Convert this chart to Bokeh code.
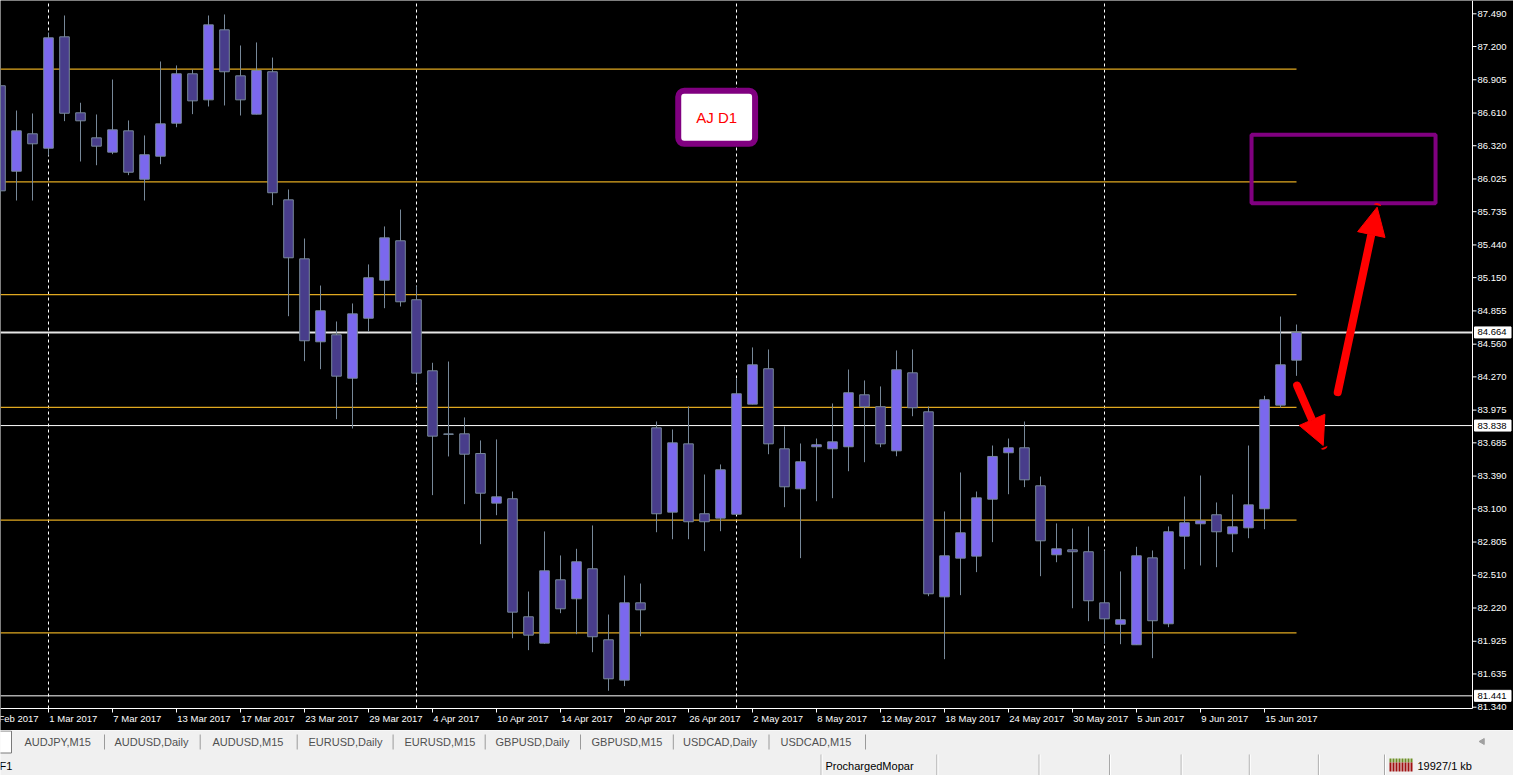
import numpy as np
import pandas as pd
from bokeh.plotting import figure
from bokeh.layouts import column
from bokeh.models import (Range1d, Label, BoxAnnotation, Arrow, NormalHead, ColumnDataSource)
from bokeh.core.properties import value
from bokeh.embed import file_html
from bokeh.resources import INLINE

# ---------------- data (AUDJPY daily) ----------------
first_bar_date = "2017-02-24"
opens = [86.852, 86.094, 86.426, 86.298, 87.286, 86.612, 86.390, 86.263, 86.452, 86.023,
         86.227, 86.520, 86.958, 86.727, 87.348, 86.940, 86.600, 86.976, 85.840, 85.317,
         84.581, 84.643, 84.258, 84.790, 85.127, 85.477, 84.954, 84.324, 83.764, 83.765,
         83.590, 83.150, 83.189, 82.142, 81.908, 82.470, 82.302, 82.568, 81.938, 81.580,
         82.266, 83.818, 83.070, 83.676, 83.056, 83.017, 83.052, 84.028, 84.342, 83.632,
         83.277, 83.650, 83.632, 83.650, 84.111, 84.005, 83.614, 84.306, 83.960, 82.319,
         82.662, 82.680, 83.185, 83.597, 83.641, 83.304, 82.692, 82.736, 82.719, 82.266,
         82.076, 81.894, 82.665, 82.080, 82.857, 82.967, 83.047, 82.878, 82.931, 83.100,
         84.019, 84.418]
highs = [86.898, 86.632, 86.606, 87.324, 87.475, 86.701, 86.597, 86.907, 86.544, 86.411,
         87.067, 87.032, 86.996, 87.475, 87.484, 87.209, 87.236, 87.102, 85.932, 85.497,
         85.080, 84.761, 84.921, 85.267, 85.604, 85.754, 85.074, 84.395, 84.406, 83.910,
         83.706, 83.715, 83.253, 82.366, 82.899, 82.686, 82.745, 82.952, 82.162, 82.508,
         82.437, 83.874, 83.803, 84.007, 83.404, 83.493, 84.256, 84.531, 84.513, 83.830,
         83.679, 83.723, 84.034, 84.335, 84.238, 84.185, 84.504, 84.513, 84.007, 83.076,
         83.422, 83.253, 83.661, 83.723, 83.874, 83.386, 82.970, 82.925, 82.943, 82.730,
         82.544, 82.763, 82.730, 82.943, 83.209, 83.395, 83.156, 83.227, 83.661, 84.102,
         84.805, 84.734]
lows = [85.879, 85.834, 85.834, 86.233, 86.538, 86.180, 86.147, 86.245, 86.059, 85.834,
        86.156, 86.484, 86.600, 86.668, 86.677, 86.588, 86.598, 85.793, 84.808, 84.409,
        84.338, 83.895, 83.812, 84.672, 84.879, 84.894, 84.218, 83.221, 83.564, 83.141,
        82.786, 83.043, 81.952, 81.846, 81.902, 82.174, 81.988, 81.828, 81.486, 81.527,
        81.970, 82.892, 82.830, 82.830, 82.724, 82.901, 83.050, 84.026, 83.584, 83.114,
        82.662, 83.167, 83.194, 83.433, 83.513, 83.646, 83.566, 83.921, 82.325, 81.766,
        82.334, 82.538, 82.804, 83.229, 83.292, 82.502, 82.626, 82.218, 82.103, 81.902,
        81.899, 81.892, 81.775, 82.050, 82.564, 82.597, 82.582, 82.715, 82.839, 82.919,
        83.996, 84.279]
closes = [85.920, 86.452, 86.337, 87.277, 86.608, 86.541, 86.316, 86.461, 86.085, 86.240,
          86.514, 86.958, 86.718, 87.392, 86.976, 86.727, 86.987, 85.903, 85.326, 84.590,
          84.856, 84.276, 84.829, 85.149, 85.503, 84.936, 84.303, 83.744, 83.760, 83.584,
          83.238, 83.206, 82.183, 81.979, 82.550, 82.213, 82.630, 81.965, 81.592, 82.266,
          82.204, 83.056, 83.685, 82.985, 82.985, 83.446, 84.120, 84.377, 83.676, 83.295,
          83.517, 83.668, 83.694, 84.129, 84.005, 83.676, 84.333, 83.996, 82.346, 82.683,
          82.887, 83.197, 83.564, 83.641, 83.357, 82.816, 82.745, 82.719, 82.284, 82.124,
          82.116, 82.683, 82.107, 82.896, 82.976, 82.993, 82.896, 82.940, 83.135, 84.067,
          84.377, 84.664]

date_tick_labels = ["23 Feb 2017", "1 Mar 2017", "7 Mar 2017", "13 Mar 2017", "17 Mar 2017",
                    "23 Mar 2017", "29 Mar 2017", "4 Apr 2017", "10 Apr 2017", "14 Apr 2017",
                    "20 Apr 2017", "26 Apr 2017", "2 May 2017", "8 May 2017", "12 May 2017",
                    "18 May 2017", "24 May 2017", "30 May 2017", "5 Jun 2017", "9 Jun 2017",
                    "15 Jun 2017"]
price_ticks = [87.490, 87.200, 86.905, 86.610, 86.320, 86.025, 85.735, 85.440, 85.150, 84.855,
               84.560, 84.270, 83.975, 83.685, 83.390, 83.100, 82.805, 82.510, 82.220, 81.925,
               81.635, 81.340]
level_lines = [87.0, 86.0, 85.0, 84.0, 83.0, 82.0]
marked_prices = [84.664, 83.838, 81.441]
chart_label = "AJ D1"

# drawn objects (bar index, price)
target_box = dict(left=75.19, right=86.69, top=86.417, bottom=85.810)
arrow_up = (80.58, 84.134, 83.04, 85.775)
arrow_down = (78.04, 84.193, 79.67, 83.661)
label_pos = (41.76, 86.572)

tab_names = ["AUDJPY,M15", "AUDUSD,Daily", "AUDUSD,M15", "EURUSD,Daily", "EURUSD,M15",
             "GBPUSD,Daily", "GBPUSD,M15", "USDCAD,Daily", "USDCAD,M15"]
status_texts = ["F1", "ProchargedMopar", "19927/1 kb"]

# ---------------- index mapping (trading days, 1 Mar 2017 = 0) ----------------
all_days = pd.bdate_range("2017-02-01", "2017-07-31")
pos = {d: i for i, d in enumerate(all_days)}
origin = pos[pd.Timestamp("2017-03-01")]
bar_dates = pd.bdate_range(first_bar_date, periods=len(opens))
xs = np.array([pos[d] - origin for d in bar_dates], dtype=float)

o = np.array(opens); h = np.array(highs); l = np.array(lows); c = np.array(closes)
bull = c >= o
src = ColumnDataSource(dict(
    x=xs, high=h, low=l,
    top=np.maximum(o, c), bottom=np.minimum(o, c),
    color=np.where(bull, "#7B68EE", "#483D8B"),
))

tick_dates = [pd.to_datetime(s, format="%d %b %Y") for s in date_tick_labels]
tick_x = np.array([pos[d] - origin for d in tick_dates], dtype=float)

FONT = "Liberation Sans"
W = 1513
PX = 16.0          # pixels per bar
PY = 112.75        # pixels per price unit
X0 = -3.0          # bar index at left edge
Y_TOP = 87.608     # price at top edge
AX_X = X0 + 1472 / PX          # price-axis position (bar units)
AX_Y = Y_TOP - 708 / PY        # date-axis position (price units)

p = figure(width=W, height=730, x_range=Range1d(X0, X0 + W / PX),
           y_range=Range1d(Y_TOP - 730 / PY, Y_TOP),
           toolbar_location=None, output_backend="svg",
           x_axis_location=None, y_axis_location=None, min_border=0)
p.background_fill_color = "black"
p.border_fill_color = "black"
p.outline_line_color = None
p.grid.visible = False

# month separators (first bar of each month)
msep = [xs[i] for i in range(1, len(xs)) if bar_dates[i].month != bar_dates[i - 1].month]
p.segment(x0=msep, x1=msep, y0=[AX_Y] * len(msep), y1=[Y_TOP] * len(msep),
          line_color="white", line_dash="3 3", line_width=1)

# level lines ending at the last bar
p.segment(x0=[X0] * len(level_lines), x1=[xs[-1]] * len(level_lines),
          y0=level_lines, y1=level_lines, line_color="#E0A820", line_width=1.3)

# marked price lines (full width up to the price axis)
p.segment(x0=[X0] * 3, x1=[AX_X] * 3, y0=marked_prices, y1=marked_prices,
          line_color=["#E6E6E6", "white", "white"], line_width=[2, 1, 1])

# candles
p.segment(x0="x", x1="x", y0="low", y1="high", source=src, line_color="#778899", line_width=1)
p.vbar(x="x", width=0.6, top="top", bottom="bottom", source=src,
       fill_color="color", line_color="#778899", line_width=1)

# ---- price axis (right) ----
p.segment(x0=[AX_X], x1=[AX_X], y0=[AX_Y], y1=[Y_TOP], line_color="white", line_width=1)
p.segment(x0=[AX_X] * len(price_ticks), x1=[AX_X + 4 / PX] * len(price_ticks),
          y0=price_ticks, y1=price_ticks, line_color="white", line_width=1)
p.text(x=[AX_X + 5 / PX] * len(price_ticks), y=price_ticks,
       text=[f"{t:.3f}" for t in price_ticks], text_font=value(FONT),
       text_font_size="9.5px", text_color="white", text_baseline="middle", text_align="left")
# highlighted prices on the axis
p.quad(left=[AX_X + 2 / PX] * 3, right=[AX_X + 38.5 / PX] * 3,
       top=[mp + 5.5 / PY for mp in marked_prices],
       bottom=[mp - 5.5 / PY for mp in marked_prices],
       fill_color="white", line_color="white")
p.text(x=[AX_X + 5 / PX] * 3, y=marked_prices, text=[f"{mp:.3f}" for mp in marked_prices],
       text_font=value(FONT), text_font_size="9.5px", text_color="black",
       text_baseline="middle", text_align="left")

# ---- date axis (bottom) ----
p.segment(x0=[X0], x1=[AX_X], y0=[AX_Y], y1=[AX_Y], line_color="white", line_width=1)
p.segment(x0=tick_x, x1=tick_x, y0=[AX_Y] * len(tick_x), y1=[AX_Y - 4 / PY] * len(tick_x),
          line_color="white", line_width=1)
p.text(x=tick_x + 0.05, y=[AX_Y - 10 / PY] * len(tick_x), text=date_tick_labels,
       text_font=value(FONT), text_font_size="9.5px", text_color="white",
       text_baseline="middle", text_align="left")

# target box
p.add_layout(BoxAnnotation(left=target_box["left"], right=target_box["right"],
                           top=target_box["top"], bottom=target_box["bottom"],
                           fill_alpha=0, fill_color=None, line_color="#800080",
                           line_alpha=1.0, line_width=4))

# arrows
for (x0, y0, x1, y1) in [arrow_up, arrow_down]:
    p.add_layout(Arrow(x_start=x0, y_start=y0, x_end=x1, y_end=y1, line_color="#FF0000",
                       line_width=8, line_cap="round",
                       end=NormalHead(size=28, fill_color="#FF0000", line_color="#FF0000",
                                      line_width=1)))

# chart label
p.add_layout(Label(x=label_pos[0], y=label_pos[1], text=chart_label, text_font=FONT,
                   text_font_size="15px", text_color="#FF0000", text_align="center",
                   text_baseline="middle", background_fill_color="white",
                   border_line_color="#800080", border_line_width=6, border_radius=6,
                   padding=18))

# ---------------- tab bar + status bar ----------------
p2 = figure(width=W, height=45, x_range=Range1d(0, W), y_range=Range1d(775, 730),
            toolbar_location=None, output_backend="svg", x_axis_location=None,
            y_axis_location=None, min_border=0)
p2.background_fill_color = "#F0F0F0"
p2.border_fill_color = "#F0F0F0"
p2.outline_line_color = None
p2.grid.visible = False

p2.quad(left=[-2], right=[11], top=[730.5], bottom=[752.5], fill_color="white",
        line_color="#7A7A7A", line_width=1)
tab_x = [24, 114, 212, 308, 404, 495, 591, 682.5, 780]
tab_sep = [104, 199.7, 296.7, 392.6, 484.7, 580, 672.8, 768.5, 865]
p2.text(x=tab_x, y=[741.5] * len(tab_x), text=tab_names, text_font=value(FONT),
        text_font_size="11px", text_color="#505050", text_baseline="middle")
p2.segment(x0=tab_sep, x1=tab_sep, y0=[734] * len(tab_sep), y1=[749] * len(tab_sep),
           line_color="#9A9A9A", line_width=1)
p2.scatter(x=[1482], y=[741], marker="triangle", angle=np.pi / 2, size=6,
           fill_color="#A0A0A0", line_color="#A0A0A0")

stat_sep = [820.6, 936.4, 1038.6, 1109, 1180.7, 1248.8, 1317.9, 1384]
p2.segment(x0=stat_sep, x1=stat_sep, y0=[754] * len(stat_sep), y1=[775] * len(stat_sep),
           line_color="#A8A8A8", line_width=1)
p2.segment(x0=[s + 1 for s in stat_sep], x1=[s + 1 for s in stat_sep],
           y0=[754] * len(stat_sep), y1=[775] * len(stat_sep), line_color="white", line_width=1)
p2.text(x=[-1, 825, 1417], y=[765, 765, 765], text=status_texts, text_font=value(FONT),
        text_font_size="11px", text_color="black", text_baseline="middle")
# connection icon
icon_x = [1390 + 3 * k for k in range(8)]
p2.vbar(x=icon_x, width=2, top=[758] * 8, bottom=[762] * 8, fill_color="#6B8E23", line_color=None)
p2.vbar(x=icon_x, width=2, top=[762] * 8, bottom=[771] * 8, fill_color="#A01010", line_color=None)

layout = column(p, p2, spacing=0)

open("out.html", "w").write(file_html(layout, INLINE))
